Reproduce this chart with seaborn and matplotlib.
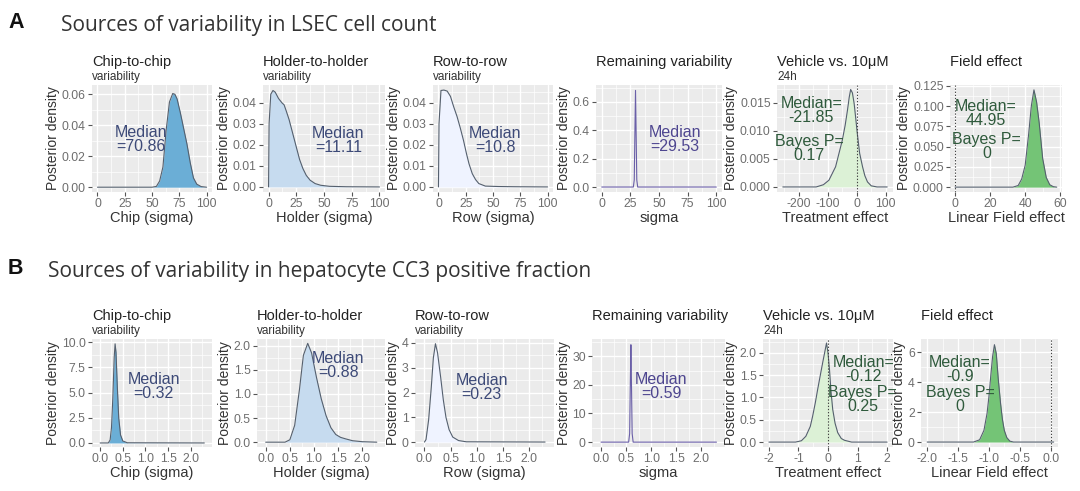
import matplotlib
matplotlib.use("Agg")
import matplotlib.pyplot as plt
import seaborn as sns
from matplotlib.ticker import FixedLocator

# ---------------- A: LSEC cell count (curves) ----------------
a_chip_x = [0, 50, 54, 57, 60, 63, 66, 69, 71, 73, 76, 79, 82, 85, 88, 91, 95, 100]
a_chip_y = [0, 0, 0.0005, 0.004, 0.013, 0.037, 0.055, 0.0605, 0.06, 0.057, 0.048,
            0.038, 0.028, 0.016, 0.006, 0.002, 0.0004, 0]

a_holder_x = [0, 0.5, 2, 4, 6, 9, 12, 14, 16, 18.5, 21, 25, 28, 31, 34, 37.5, 42, 47, 55, 70, 100]
a_holder_y = [0, 0.03, 0.044, 0.0458, 0.045, 0.042, 0.040, 0.039, 0.036, 0.032, 0.027,
              0.019, 0.013, 0.0087, 0.0055, 0.0032, 0.0016, 0.0008, 0.0003, 0.0001, 0]

a_row_x = [0, 0.5, 2.3, 5, 8, 11, 14, 17, 20, 23, 25.6, 28, 31, 34, 37, 43, 55, 70, 100]
a_row_y = [0, 0.03, 0.0458, 0.046, 0.0455, 0.043, 0.038, 0.0335, 0.028, 0.022, 0.016,
           0.011, 0.0063, 0.0035, 0.0016, 0.0004, 0.0002, 0.0001, 0]

a_rem_x = [0, 27.6, 28.4, 29.0, 29.5, 30.0, 30.6, 31.4, 100]
a_rem_y = [0, 0, 0.05, 0.4, 0.68, 0.4, 0.05, 0, 0]

a_veh_x = [-255, -140, -115, -96, -73, -50, -40, -32, -26, -21, -15, -9, -3, 2, 10, 20,
           28, 37, 50, 70, 105]
a_veh_y = [0, 0, 0.0004, 0.0012, 0.0036, 0.0083, 0.011, 0.0137, 0.016, 0.0174, 0.0168,
           0.0149, 0.012, 0.0095, 0.006, 0.0036, 0.002, 0.0009, 0.0002, 0, 0]

a_field_x = [0, 33, 36, 38, 40, 42, 43.5, 45, 46.5, 48, 50, 52, 54, 56, 58]
a_field_y = [0, 0, 0.002, 0.01, 0.027, 0.066, 0.1, 0.12, 0.105, 0.079, 0.035, 0.012,
             0.003, 0.0006, 0]

# ---------------- B: hepatocyte CC3 positive fraction ----------------
b_chip_x = [0, 0.18, 0.22, 0.25, 0.28, 0.31, 0.33, 0.35, 0.38, 0.41, 0.45, 0.5, 0.6, 2.3]
b_chip_y = [0, 0, 0.3, 1.5, 4.5, 8.5, 9.85, 9.0, 5.5, 2.5, 0.8, 0.2, 0.02, 0]

b_holder_x = [0, 0.4, 0.5, 0.6, 0.7, 0.78, 0.87, 0.95, 1.05, 1.15, 1.25, 1.35, 1.45,
              1.55, 1.65, 1.8, 2.0, 2.3]
b_holder_y = [0, 0, 0.05, 0.35, 1.1, 1.8, 2.05, 1.85, 1.35, 0.9, 0.55, 0.3, 0.16, 0.1,
              0.07, 0.03, 0.01, 0]

b_row_x = [0, 0.03, 0.08, 0.13, 0.17, 0.21, 0.25, 0.31, 0.36, 0.41, 0.47, 0.54, 0.65, 0.8, 2.3]
b_row_y = [0, 0.1, 0.9, 2.2, 3.4, 3.97, 3.6, 2.6, 1.7, 1.0, 0.5, 0.2, 0.06, 0.01, 0]

b_rem_x = [0, 0.55, 0.57, 0.585, 0.595, 0.605, 0.62, 0.64, 2.3]
b_rem_y = [0, 0, 3, 22, 34, 22, 3, 0, 0]

b_veh_x = [-2, -1.1, -0.9, -0.75, -0.6, -0.52, -0.43, -0.35, -0.26, -0.18, -0.1, -0.05,
           0, 0.05, 0.1, 0.16, 0.24, 0.33, 0.45, 0.56, 0.8, 2]
b_veh_y = [0, 0, 0.03, 0.13, 0.35, 0.58, 0.88, 1.18, 1.5, 1.78, 2.05, 2.22, 2.0, 1.63,
           1.15, 0.73, 0.42, 0.21, 0.08, 0.04, 0, 0]

b_field_x = [-2, -1.25, -1.15, -1.08, -1.03, -1.0, -0.97, -0.94, -0.91, -0.88, -0.85,
             -0.81, -0.78, -0.75, -0.71, -0.66, -0.6, 0.05]
b_field_y = [0, 0, 0.15, 0.78, 1.9, 3.0, 4.4, 5.7, 6.5, 5.9, 4.3, 2.55, 1.5, 0.78, 0.3,
             0.06, 0, 0]

medians_a = ["70.86", "11.11", "10.8", "29.53", "-21.85", "44.95"]
bayes_a = ["0.17", "0"]
medians_b = ["0.32", "0.88", "0.23", "0.59", "-0.12", "-0.9"]
bayes_b = ["0.25", "0"]

titles = ["Chip-to-chip", "Holder-to-holder", "Row-to-row", "Remaining variability",
          "Vehicle vs. 10\u03bcM", "Field effect"]
subtitles = ["variability", "variability", "variability", "", "24h", ""]
xlabels = ["Chip (sigma)", "Holder (sigma)", "Row (sigma)", "sigma",
           "Treatment effect", "Linear Field effect"]

# tick breaks
sig_a_ticks = [0, 25, 50, 75, 100]
sig_b_ticks = [0.0, 0.5, 1.0, 1.5, 2.0]
veh_a_ticks = [-200, -100, 0, 100]
field_a_ticks = [0, 20, 40, 60]
veh_b_ticks = [-2, -1, 0, 1, 2]
field_b_ticks = [-2.0, -1.5, -1.0, -0.5, 0.0]

sns.set_theme(style="darkgrid")
plt.rcParams["font.family"] = ["Liberation Sans", "DejaVu Sans"]

W, H = 1080, 491
fig = plt.figure(figsize=(W / 100, H / 100), dpi=100)
fig.patch.set_facecolor("white")

BLUE_TXT = "#3d4a78"
PURP_TXT = "#4e4690"
GREEN_TXT = "#2f5a3c"
EDGE = "#55606e"


def axes_at(left, right, top, bottom):
    return fig.add_axes([left / W, 1 - bottom / H, (right - left) / W, (bottom - top) / H])


def minors(ticks):
    step = ticks[1] - ticks[0]
    return [ticks[0] - step / 2] + [t + step / 2 for t in ticks]


def fmt(vals, nd):
    return [f"{v:.{nd}f}" for v in vals]


def panel(ax, x, y, fill, edge, xlim, ylim, xt, xtl, yt, ytl, i, notes, color, vline=False):
    if fill:
        ax.fill_between(x, 0, y, color=fill, lw=0)
    sns.lineplot(x=x, y=y, ax=ax, color=edge, lw=0.8, estimator=None, sort=False)
    if vline:
        ax.axvline(0, color="#444444", ls=(0, (1.2, 1.6)), lw=0.8)
    ax.set_facecolor("#EBEBEB")
    ax.set_xlim(xlim)
    ax.set_ylim(ylim)
    ax.set_xticks(xt, xtl)
    ax.set_yticks(yt, ytl)
    ax.xaxis.set_minor_locator(FixedLocator(minors(xt)))
    ax.yaxis.set_minor_locator(FixedLocator(minors(yt)))
    ax.grid(True, which="major", color="white", lw=1.0)
    ax.grid(True, which="minor", color="white", lw=0.5)
    ax.set_axisbelow(True)
    for s in ax.spines.values():
        s.set_visible(False)
    ax.tick_params(which="major", bottom=True, left=True, length=3, width=0.8,
                   color="#555555", labelsize=8.8, labelcolor="#6e6e6e", pad=1.5)
    ax.tick_params(which="minor", length=0)
    ax.set_xlabel(xlabels[i], fontsize=10.5, color="#333333", labelpad=0.5)
    ax.set_ylabel("Posterior density", fontsize=10, color="#333333", labelpad=1)
    ax.annotate(titles[i], (0, 1), xycoords="axes fraction", xytext=(0, 16.5),
                textcoords="offset points", ha="left", va="center", fontsize=10.5,
                color="#222222")
    if subtitles[i]:
        ax.annotate(subtitles[i], (0, 1), xycoords="axes fraction", xytext=(0, 5.5),
                    textcoords="offset points", ha="left", va="center", fontsize=8.5,
                    color="#333333")
    for nx, ny, txt in notes:
        ax.text(nx, ny, txt, ha="center", va="center", fontsize=11.5, color=color,
                linespacing=0.92)


# ---- row A ----
ta, ba = 85, 192
ax = axes_at(92, 212, ta, ba)
panel(ax, a_chip_x, a_chip_y, "#6baed6", EDGE, (-5, 105), (-0.0031, 0.066),
      sig_a_ticks, [str(t) for t in sig_a_ticks], [0, 0.02, 0.04, 0.06],
      fmt([0, 0.02, 0.04, 0.06], 2), 0, [(40, 0.031, "Median\n=" + medians_a[0])], BLUE_TXT)

ax = axes_at(263, 385, ta, ba)
yt = [0, 0.01, 0.02, 0.03, 0.04]
panel(ax, a_holder_x, a_holder_y, "#c6dbef", EDGE, (-5, 105), (-0.0024, 0.0484),
      sig_a_ticks, [str(t) for t in sig_a_ticks], yt, fmt(yt, 2), 1,
      [(63, 0.022, "Median\n=" + medians_a[1])], BLUE_TXT)

ax = axes_at(433, 553, ta, ba)
panel(ax, a_row_x, a_row_y, "#eff3ff", EDGE, (-5, 105), (-0.0024, 0.0484),
      sig_a_ticks, [str(t) for t in sig_a_ticks], yt, fmt(yt, 2), 2,
      [(52, 0.022, "Median\n=" + medians_a[2])], BLUE_TXT)

ax = axes_at(596, 722, ta, ba)
yt = [0, 0.2, 0.4, 0.6]
panel(ax, a_rem_x, a_rem_y, None, "#6a5fa8", (-5, 105), (-0.035, 0.718),
      sig_a_ticks, [str(t) for t in sig_a_ticks], yt, fmt(yt, 1), 3,
      [(64, 0.336, "Median\n=" + medians_a[3])], PURP_TXT)

ax = axes_at(777, 893, ta, ba)
yt = [0, 0.005, 0.010, 0.015]
panel(ax, a_veh_x, a_veh_y, "#dcf1d6", EDGE, (-275, 125), (-0.0009, 0.0182),
      veh_a_ticks, [str(t) for t in veh_a_ticks], yt, fmt(yt, 3), 4,
      [(-157, 0.0137, "Median=\n" + medians_a[4]), (-165, 0.0068, "Bayes P=\n" + bayes_a[0])],
      GREEN_TXT, vline=True)

ax = axes_at(950, 1062, ta, ba)
yt = [0, 0.025, 0.05, 0.075, 0.1, 0.125]
panel(ax, a_field_x, a_field_y, "#74c476", EDGE, (-2.9, 61), (-0.006, 0.126),
      field_a_ticks, [str(t) for t in field_a_ticks], yt, fmt(yt, 3), 5,
      [(17.3, 0.091, "Median=\n" + medians_a[5]), (18, 0.05, "Bayes P=\n" + bayes_a[1])],
      GREEN_TXT, vline=True)

# ---- row B ----
tb, bb = 339, 447
sig_b_lbl = fmt(sig_b_ticks, 1)
ax = axes_at(92, 212, tb, bb)
yt = [0, 2.5, 5.0, 7.5, 10.0]
panel(ax, b_chip_x, b_chip_y, "#6baed6", EDGE, (-0.18, 2.47), (-0.4, 10.33),
      sig_b_ticks, sig_b_lbl, yt, fmt(yt, 1), 0,
      [(1.18, 5.6, "Median\n=" + medians_b[0])], BLUE_TXT)

ax = axes_at(257, 385, tb, bb)
yt = [0, 0.5, 1.0, 1.5, 2.0]
panel(ax, b_holder_x, b_holder_y, "#c6dbef", EDGE, (-0.18, 2.47), (-0.1, 2.14),
      sig_b_ticks, sig_b_lbl, yt, fmt(yt, 1), 1,
      [(1.5, 1.6, "Median\n=" + medians_b[1])], BLUE_TXT)

ax = axes_at(415, 554, tb, bb)
yt = [0, 1, 2, 3, 4]
panel(ax, b_row_x, b_row_y, "#eff3ff", EDGE, (-0.18, 2.47), (-0.2, 4.16),
      sig_b_ticks, sig_b_lbl, yt, fmt(yt, 0), 2,
      [(1.09, 2.2, "Median\n=" + medians_b[2])], BLUE_TXT)

ax = axes_at(592, 725, tb, bb)
yt = [0, 10, 20, 30]
panel(ax, b_rem_x, b_rem_y, None, "#6a5fa8", (-0.18, 2.47), (-1.7, 36),
      sig_b_ticks, sig_b_lbl, yt, fmt(yt, 0), 3,
      [(1.2, 19.5, "Median\n=" + medians_b[3])], PURP_TXT)

ax = axes_at(763, 893, tb, bb)
yt = [0, 0.5, 1.0, 1.5, 2.0]
panel(ax, b_veh_x, b_veh_y, "#dcf1d6", EDGE, (-2.2, 2.2), (-0.11, 2.31),
      veh_b_ticks, [str(t) for t in veh_b_ticks], yt, fmt(yt, 1), 4,
      [(1.2, 1.63, "Median=\n" + medians_b[4]), (1.18, 0.95, "Bayes P=\n" + bayes_b[0])],
      GREEN_TXT, vline=True)

ax = axes_at(921, 1058, tb, bb)
yt = [0, 2, 4, 6]
panel(ax, b_field_x, b_field_y, "#74c476", EDGE, (-2.1, 0.12), (-0.33, 6.88),
      field_b_ticks, fmt(field_b_ticks, 1), yt, fmt(yt, 0), 5,
      [(-1.47, 4.84, "Median=\n" + medians_b[5]), (-1.47, 2.84, "Bayes P=\n" + bayes_b[1])],
      GREEN_TXT, vline=True)

# ---- section headings ----
fig.text(8 / W, 1 - 23 / H, "A", fontsize=15.5, weight="bold", color="#111111", va="center")
fig.text(61 / W, 1 - 26 / H, "Sources of variability in LSEC cell count", fontsize=15,
         family=["Open Sans", "DejaVu Sans"], color="#333333", va="center")
fig.text(8 / W, 1 - 268 / H, "B", fontsize=15.5, weight="bold", color="#111111", va="center")
fig.text(48 / W, 1 - 271 / H, "Sources of variability in hepatocyte CC3 positive fraction",
         fontsize=15, family=["Open Sans", "DejaVu Sans"], color="#333333", va="center")

fig.savefig("out.png", dpi=100, facecolor="white")
